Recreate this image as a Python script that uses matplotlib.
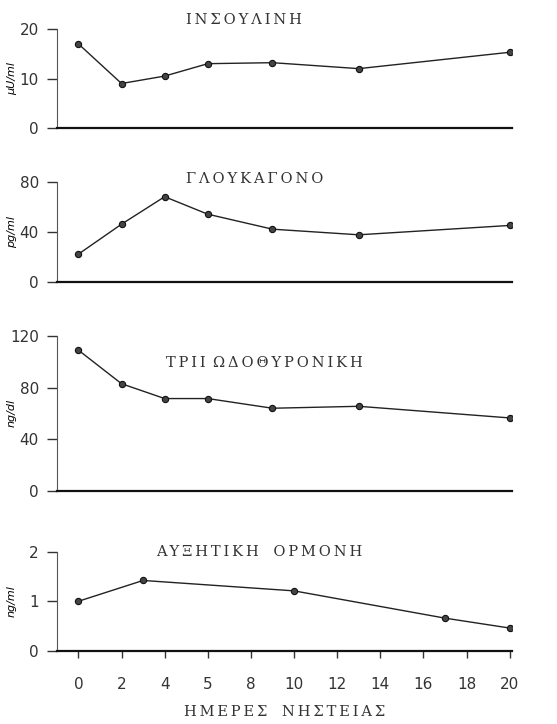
import matplotlib.pyplot as plt

# fasting days for each hormone
ins_days = [0, 2, 4, 6, 9, 13, 20]
ins_vals = [17, 9, 10.5, 13, 13.2, 12, 15.3]

glu_days = [0, 2, 4, 6, 9, 13, 20]
glu_vals = [22, 46, 68, 54, 42, 37.5, 45]

t3_days = [0, 2, 4, 6, 9, 13, 20]
t3_vals = [109, 83, 71.5, 71.5, 64, 65.5, 56.5]

gh_days = [0, 3, 10, 17, 20]
gh_vals = [1.0, 1.42, 1.21, 0.66, 0.46]

titles = ["ΙΝΣΟΥΛΙΝΗ", "ΓΛΟΥΚΑΓΟΝΟ", "ΤΡΙΙ ΩΔΟΘΥΡΟΝΙΚΗ", "ΑΥΞΗΤΙΚΗ ΟΡΜΟΝΗ"]
units = ["μU/ml", "pg/ml", "ng/dl", "ng/ml"]
yticks = [[0, 10, 20], [0, 40, 80], [0, 40, 80, 120], [0, 1, 2]]
ylims = [(0, 20), (0, 80), (0, 120), (0, 2)]
xtick_pos = [0, 2, 4, 6, 8, 10, 12, 14, 16, 18, 20]
xtick_lab = ["0", "2", "4", "5", "8", "10", "12", "14", "16", "18", "20"]
xlabel = "ΗΜΕΡΕΣ ΝΗΣΤΕΙΑΣ"


def spaced(s, gap="\u2002"):
    # typewriter look: thin gap between letters, wider gap between words
    return gap.join("\u2009".join(w) for w in s.split(" "))


# axes boxes [left, bottom, width, height] in figure fractions
boxes = [[0.102, 0.823, 0.817, 0.137],
         [0.102, 0.611, 0.817, 0.138],
         [0.102, 0.322, 0.817, 0.214],
         [0.102, 0.101, 0.817, 0.137]]
# title positions (x in data, y in axes fraction)
tpos = [(5.0, 1.09), (5.0, 1.03), (4.05, 0.825), (3.6, 1.0)]
tgap = ["\u2002", "\u2002", "\u2002", "\u2003"]

series = [(ins_days, ins_vals), (glu_days, glu_vals), (t3_days, t3_vals), (gh_days, gh_vals)]

fig = plt.figure(figsize=(5.57, 7.24), dpi=100)
tfont = {"family": "DejaVu Serif", "size": 10.5, "color": "#333333"}
nfont = {"family": "DejaVu Sans", "size": 11, "color": "#444444"}

for i in range(4):
    ax = fig.add_axes(boxes[i])
    d, v = series[i]
    ax.plot(d, v, color="#222222", lw=1.0, marker="o", ms=4.5,
            mfc="#444444", mec="#111111", mew=0.8)
    ax.set_xlim(-1.0, 20.1)
    ax.set_ylim(*ylims[i])
    ax.spines["top"].set_visible(False)
    ax.spines["right"].set_visible(False)
    ax.spines["left"].set_color("#555555")
    ax.spines["left"].set_linewidth(0.8)
    ax.spines["bottom"].set_color("#111111")
    ax.spines["bottom"].set_linewidth(1.6)
    ax.set_yticks(yticks[i])
    ax.set_yticklabels([str(t) for t in yticks[i]], fontdict=nfont)
    ax.tick_params(axis="y", direction="out", length=7, width=1.0, pad=6, colors="#333333")
    ax.set_ylabel(units[i], fontsize=8, fontstyle="italic")
    ax.yaxis.set_label_coords(-0.088, 0.5)
    ax.text(tpos[i][0], tpos[i][1], spaced(titles[i], tgap[i]), fontdict=tfont,
            ha="left", va="center", transform=ax.get_xaxis_transform())
    if i < 3:
        ax.set_xticks([])
    else:
        ax.set_xticks(xtick_pos)
        ax.set_xticklabels(xtick_lab, fontdict=nfont)
        ax.tick_params(axis="x", direction="out", length=5, width=1.0, pad=14, colors="#333333")
        ax.set_xlabel(spaced(xlabel, "\u2003"), fontdict=tfont, labelpad=9)

fig.savefig("out.png", dpi=100)
plt.close(fig)
